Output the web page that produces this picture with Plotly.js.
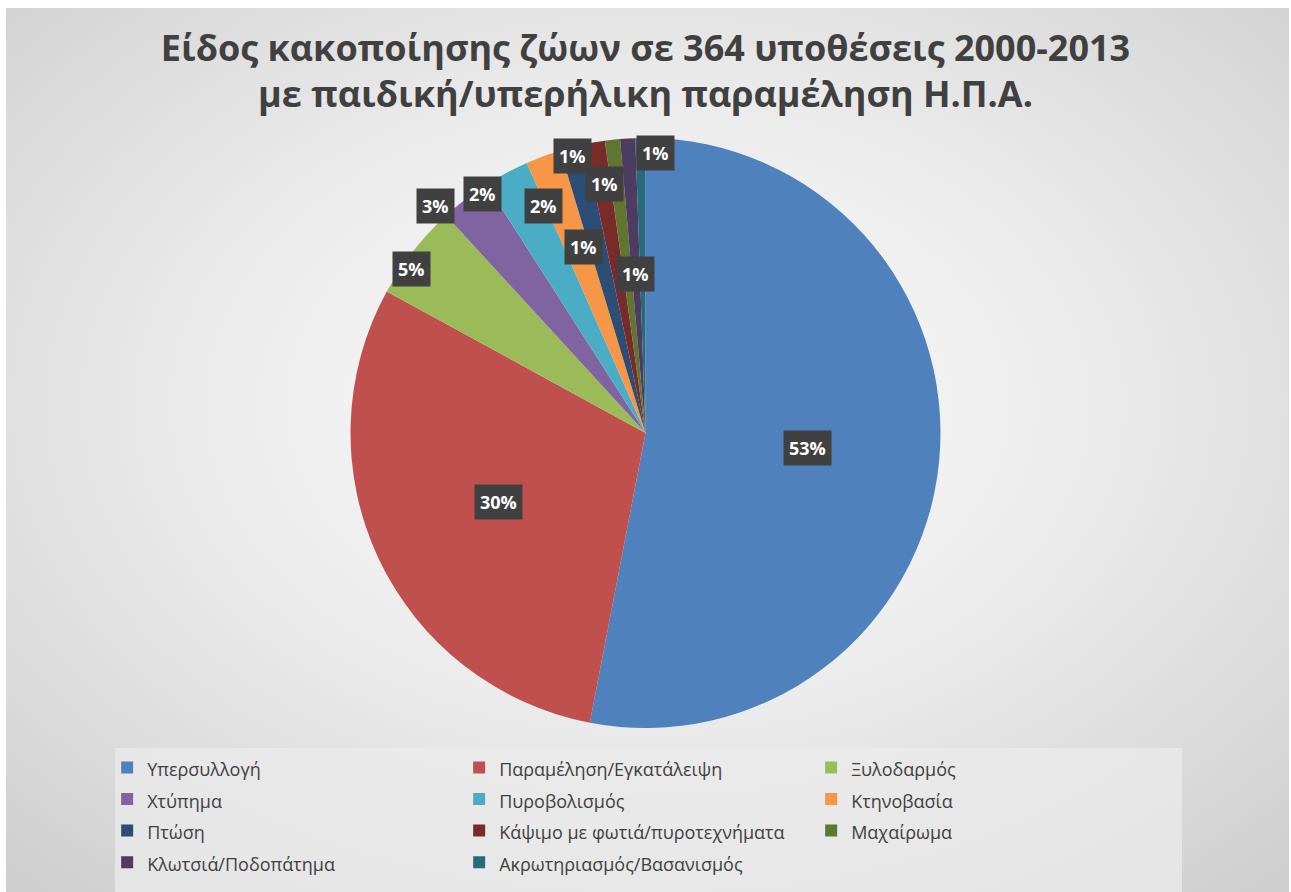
<!DOCTYPE html>
<html>
<head>
<meta charset="utf-8">
<script src="https://cdn.plot.ly/plotly-3.0.1.min.js"></script>
<style>
  html, body { margin: 0; padding: 0; background: #ffffff; }
  #frame {
    position: absolute; left: 6px; top: 8px; width: 1283px; height: 884px;
    background: radial-gradient(ellipse 75% 75% at 50% 45%, #fbfbfb 0%, #ececec 45%, #d9d9d9 80%, #cdcdcd 100%);
  }
  #chart { position: absolute; left: 0; top: 0; width: 1291px; height: 892px; }
</style>
</head>
<body>
<div id="frame"></div>
<div id="chart"></div>
<script>
// ---- data ----
const categories = [
  'Υπερσυλλογή',
  'Παραμέληση/Εγκατάλειψη',
  'Ξυλοδαρμός',
  'Χτύπημα',
  'Πυροβολισμός',
  'Κτηνοβασία',
  'Πτώση',
  'Κάψιμο με φωτιά/πυροτεχνήματα',
  'Μαχαίρωμα',
  'Κλωτσιά/Ποδοπάτημα',
  'Ακρωτηριασμός/Βασανισμός'
];
const cases = [193, 109, 19, 10, 9, 7, 5, 4, 3, 3, 2];

// ---- style ----
const colors = ['#4F81BD', '#C0504D', '#9BBB59', '#8064A2', '#4BACC6', '#F79646',
                '#2C4D75', '#772C2A', '#5F7530', '#4D3B62', '#276A7C'];
const labelRadius = [0.55, 0.55, 0.90, 0.97, 0.92, 0.82, 0.97, 0.64, 0.85, 0.54, 0.95];
const labelShiftX = [0, 0, -25, -35, -35, -18, -2, -30, -13, 0, 15];

const W = 1291, H = 892;
const domX = [0.2, 0.8];
const domY = [0.1839, 0.8453];
const font = 'Open Sans, Noto Sans, sans-serif';

// label annotations computed from data and pie geometry
const total = cases.reduce((a, b) => a + b, 0);
const cx = W * (domX[0] + domX[1]) / 2;
const cy = H * (1 - (domY[0] + domY[1]) / 2);
const R = Math.min(W * (domX[1] - domX[0]), H * (domY[1] - domY[0])) / 2;
let cum = 0;
const annotations = cases.map((v, i) => {
  const mid = (cum + v / 2) / total * 2 * Math.PI;
  cum += v;
  const r = R * labelRadius[i];
  const px = cx + r * Math.sin(mid) + labelShiftX[i];
  const py = cy - r * Math.cos(mid);
  return {
    x: px / W, y: 1 - py / H, xref: 'paper', yref: 'paper',
    xanchor: 'center', yanchor: 'middle',
    text: '<b>' + Math.round(v / total * 100) + '%</b>',
    showarrow: false, bgcolor: '#404040', borderpad: 5,
    font: { family: font, size: 18, color: '#ffffff' }
  };
});

const trace = {
  type: 'pie',
  labels: categories.map(c => '<span style="font-size:18px">' + c + '</span>'),
  values: cases,
  sort: false,
  direction: 'clockwise',
  rotation: 0,
  textinfo: 'none',
  hoverinfo: 'label+value+percent',
  marker: { colors: colors, line: { width: 0 } },
  domain: { x: domX, y: domY }
};

const layout = {
  width: W, height: H,
  margin: { l: 0, r: 0, t: 0, b: 0 },
  paper_bgcolor: 'rgba(0,0,0,0)',
  plot_bgcolor: 'rgba(0,0,0,0)',
  title: {
    text: '<b>Είδος κακοποίησης ζώων σε 364 υποθέσεις 2000-2013<br>με παιδική/υπερήλικη παραμέληση Η.Π.Α.</b>',
    font: { family: font, size: 36, color: '#404040' },
    x: 0.5, xanchor: 'center', y: 0.932, yanchor: 'top'
  },
  showlegend: true,
  legend: {
    orientation: 'h',
    x: 0.083, xanchor: 'left', y: 0.163, yanchor: 'top',
    bgcolor: 'rgba(0,0,0,0)',
    font: { family: font, size: 22, color: '#404040' },
    entrywidth: 307, entrywidthmode: 'pixels',
    traceorder: 'normal'
  },
  shapes: [{
    type: 'rect', xref: 'paper', yref: 'paper',
    x0: 115 / W, x1: 1182 / W, y0: 0, y1: 1 - 748 / H,
    fillcolor: 'rgba(235,235,235,0.75)', line: { width: 0 }, layer: 'below'
  }],
  annotations: annotations
};

Plotly.newPlot('chart', [trace], layout, { displayModeBar: false, staticPlot: true });
</script>
</body>
</html>
